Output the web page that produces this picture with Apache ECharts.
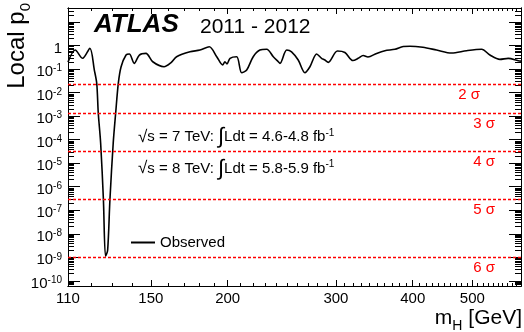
<!DOCTYPE html>
<html>
<head>
<meta charset="utf-8">
<title>ATLAS local p0</title>
<style>
  html, body { margin: 0; padding: 0; background: #fff; }
  #main { width: 524px; height: 332px; }
</style>
</head>
<body>
<div id="main"></div>
<script src="https://cdn.jsdelivr.net/npm/echarts@6/dist/echarts.min.js"></script>
<script>
// observed local p0 vs Higgs mass
var massGeV = [110, 113.0, 116.2, 119.4, 121.4, 122.5, 123.2, 124.3, 125.6, 126.6,
  127.6, 128.7, 130.3, 131.5, 132.8, 134.2, 136.7, 138.4, 141.0, 143.7,
  147.3, 151.1, 157.6, 161.8, 165.2, 173.7, 180.3, 186.7, 192.0, 196.3,
  198.0, 199.5, 201.8, 206.9, 210.8, 214.8, 220.1, 225.7, 231.5, 237.3,
  241.8, 243.3, 249.5, 254.1, 260.5, 267.1, 272.2, 279.1, 284.3, 287.9,
  291.5, 301.7, 310.3, 319.7, 326.1, 332.3, 338.2, 349.4, 360.4, 374.2,
  386.0, 395.8, 415.5, 437.4, 462.7, 489.4, 517.7, 534.1, 554.4, 571.9,
  593.7, 600];
var localP0 = [0.2, 0.65, 0.29, 0.77, 0.092, 0.025, 1.37e-3, 7.3e-5, 2.8e-7, 1.1e-9,
  2.0e-9, 2.8e-7, 7.3e-5, 1.37e-3, 0.025, 0.127, 0.40, 0.44, 0.177, 0.40,
  0.47, 0.207, 0.127, 0.19, 0.338, 0.55, 0.65, 0.90, 0.338, 0.15,
  0.207, 0.166, 0.289, 0.338, 0.0707, 0.092, 0.338, 0.65, 0.70, 0.338,
  0.207, 0.177, 0.65, 0.55, 0.245, 0.0707, 0.127, 0.44, 0.289, 0.245,
  0.195, 0.59, 0.51, 0.233, 0.289, 0.38, 0.328, 0.47, 0.61, 0.70,
  0.92, 0.95, 0.85, 0.65, 0.485, 0.61, 0.70, 0.40, 0.262, 0.289,
  0.229, 0.22];

// one-sided p-values of the sigma lines
var sigmaNames = ['2 σ', '3 σ', '4 σ', '5 σ', '6 σ'];
var sigmaP = [0.02275, 1.35e-3, 3.167e-5, 2.867e-7, 9.866e-10];

var xRange = [110, 600];
var yRange = [6e-11, 40];
var xLabelValues = [110, 150, 200, 300, 400, 500];
var xMajorTicks = [150, 200, 300, 400, 500];
var yLabelPowers = [-10, -9, -8, -7, -6, -5, -4, -3, -2, -1, 0];
var yMajorPowers = [-10, -9, -8, -7, -6, -5, -4, -3, -2, -1, 0, 1];

var lg = Math.log10;
var FONT = 'Liberation Sans, Arial, Helvetica, sans-serif';

var xMinorTicks = [];
for (var m = 120; m < 600; m += 10) {
  if (xMajorTicks.indexOf(m) < 0) xMinorTicks.push(m);
}
var yMinorTicks = [];
for (var n = -11; n <= 1; n++) {
  for (var k = 2; k <= 9; k++) yMinorTicks.push(n + lg(k));
}

var xMin = lg(xRange[0]), xMax = lg(xRange[1]);
var yMin = lg(yRange[0]), yMax = lg(yRange[1]);

function xAx(pos, ticks, len, withLabels) {
  return {
    type: 'value', position: pos, min: xMin, max: xMax,
    axisLine: { onZero: false, lineStyle: { color: '#000', width: 1 } },
    splitLine: { show: false },
    axisTick: { inside: true, length: len, lineStyle: { color: '#000' }, customValues: ticks.map(lg) },
    axisLabel: withLabels ? {
      customValues: xLabelValues.map(lg),
      formatter: function (v) { return String(Math.round(Math.pow(10, v))); },
      color: '#000', fontSize: 15, fontFamily: FONT, margin: 5
    } : { show: false }
  };
}
function yAx(pos, ticks, len, withLabels) {
  return {
    type: 'value', position: pos, min: yMin, max: yMax,
    axisLine: { onZero: false, lineStyle: { color: '#000', width: 1 } },
    splitLine: { show: false },
    axisTick: { inside: true, length: len, lineStyle: { color: '#000' }, customValues: ticks },
    axisLabel: withLabels ? {
      customValues: yLabelPowers,
      formatter: function (v) {
        var p = Math.round(v);
        if (p === 0) return '{b|1}';
        return '{b|10}{sup|' + p + '}';
      },
      margin: 6,
      rich: {
        b: { color: '#000', fontSize: 15, fontFamily: FONT, lineHeight: 15, padding: [6, 0, 0, 0] },
        sup: { color: '#000', fontSize: 10, fontFamily: FONT, lineHeight: 10, padding: [2, 0, 0, 0], verticalAlign: 'top' }
      }
    } : { show: false }
  };
}

var chart = echarts.init(document.getElementById('main'));
chart.setOption({
  backgroundColor: '#fff',
  animation: false,
  grid: { left: 68, right: 3, top: 8, bottom: 46, containLabel: false },
  xAxis: [
    xAx('bottom', xMajorTicks, 6, true),
    xAx('bottom', xMinorTicks, 3, false),
    xAx('top', xMajorTicks, 6, false),
    xAx('top', xMinorTicks, 3, false)
  ],
  yAxis: [
    yAx('left', yMajorPowers, 12, true),
    yAx('left', yMinorTicks, 6, false),
    yAx('right', yMajorPowers, 12, false),
    yAx('right', yMinorTicks, 6, false)
  ],
  legend: {
    left: 131, top: 235, padding: 0,
    icon: 'rect', itemWidth: 24, itemHeight: 2,
    textStyle: { color: '#000', fontSize: 15, fontFamily: FONT },
    data: ['Observed']
  },
  graphic: [
    {
      type: 'text', x: 5, y: 3, rotation: Math.PI / 2,
      style: {
        text: '{b|Local p}{sub|0}', align: 'right', verticalAlign: 'top',
        rich: {
          b: { fontSize: 24, fontFamily: FONT, lineHeight: 24, verticalAlign: 'top', fill: '#000' },
          sub: { fontSize: 15, fontFamily: FONT, lineHeight: 15, padding: [13, 0, 0, 0], verticalAlign: 'top', fill: '#000' }
        }
      }
    },
    {
      type: 'text', x: 522, y: 308,
      style: {
        text: '{b|m}{sub|H}{b| [GeV]}', align: 'right', verticalAlign: 'top',
        rich: {
          b: { fontSize: 21, fontFamily: FONT, lineHeight: 21, verticalAlign: 'top', fill: '#000' },
          sub: { fontSize: 14, fontFamily: FONT, lineHeight: 14, padding: [11, 0, 0, 0], verticalAlign: 'top', fill: '#000' }
        }
      }
    },
    {
      type: 'text', x: 94, y: 25,
      style: { text: 'ATLAS', font: 'italic bold 26px ' + FONT, fill: '#000', verticalAlign: 'middle' }
    },
    {
      type: 'text', x: 200, y: 27.5,
      style: { text: '2011 - 2012', font: '21px ' + FONT, fill: '#000', verticalAlign: 'middle' }
    },
    {
      type: 'text', x: 138, y: 137,
      style: {
        text: '{r|√}{t|s = 7 TeV: }{i|∫}{t|Ldt = 4.6-4.8 fb}{sup|-1}', verticalAlign: 'middle',
        rich: {
          r: { fontSize: 17, fontFamily: FONT, fill: '#000' },
          t: { fontSize: 15, fontFamily: FONT, fill: '#000' },
          i: { fontSize: 22, fontFamily: FONT, fill: '#000' },
          sup: { fontSize: 10, fontFamily: FONT, fill: '#000', lineHeight: 10, verticalAlign: 'top', padding: [2, 0, 0, 0] }
        }
      }
    },
    {
      type: 'text', x: 138, y: 168.7,
      style: {
        text: '{r|√}{t|s = 8 TeV: }{i|∫}{t|Ldt = 5.8-5.9 fb}{sup|-1}', verticalAlign: 'middle',
        rich: {
          r: { fontSize: 17, fontFamily: FONT, fill: '#000' },
          t: { fontSize: 15, fontFamily: FONT, fill: '#000' },
          i: { fontSize: 22, fontFamily: FONT, fill: '#000' },
          sup: { fontSize: 10, fontFamily: FONT, fill: '#000', lineHeight: 10, verticalAlign: 'top', padding: [2, 0, 0, 0] }
        }
      }
    }
  ],
  series: [{
    name: 'Observed',
    type: 'line',
    xAxisIndex: 0, yAxisIndex: 0,
    symbol: 'none', showSymbol: false,
    smooth: 0.3,
    lineStyle: { color: '#000', width: 1.6 },
    itemStyle: { color: '#000' },
    data: massGeV.map(function (mh, i) { return [lg(mh), lg(localP0[i])]; }),
    markLine: {
      silent: true,
      symbol: ['none', 'none'],
      lineStyle: { color: '#ff0000', type: [3, 2], width: 1.3 },
      label: { position: 'insideEndBottom', color: '#ff0000', fontSize: 15, fontFamily: FONT, distance: [26, 3] },
      data: sigmaP.map(function (p, i) {
        var d = { yAxis: lg(p), label: { formatter: sigmaNames[i] } };
        if (i === 0) d.label.distance = [41, 3];
        return d;
      })
    }
  }]
});
</script>
</body>
</html>
